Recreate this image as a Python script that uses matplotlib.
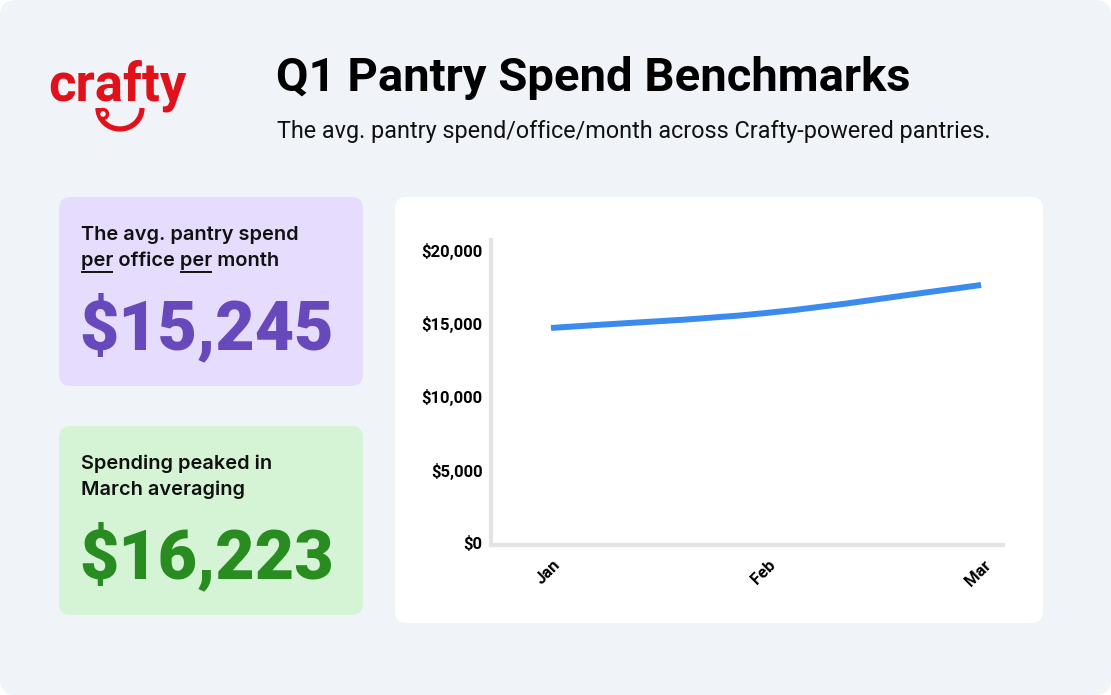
import matplotlib.pyplot as plt
from matplotlib.patches import FancyBboxPatch, Arc, Circle
from matplotlib.path import Path
from matplotlib.patches import PathPatch
from matplotlib.ticker import FuncFormatter
from matplotlib.transforms import ScaledTranslation
import numpy as np

# Data
months = ["Jan", "Feb", "Mar"]
spend = [14680, 15700, 17610]
y_ticks = [0, 5000, 10000, 15000, 20000]
avg_spend = "$15,245"
peak_spend = "$16,223"

W, H = 1111, 695
fig = plt.figure(figsize=(W / 100, H / 100), dpi=100)
fig.patch.set_facecolor("white")
plt.rcParams["font.family"] = ["Roboto", "DejaVu Sans"]

# background canvas in pixel units (y down)
bg = fig.add_axes([0, 0, 1, 1])
bg.set_xlim(0, W)
bg.set_ylim(H, 0)
bg.axis("off")


def rbox(x0, y0, x1, y1, color, r):
    bg.add_patch(FancyBboxPatch((x0, y0), x1 - x0, y1 - y0,
                                boxstyle=f"round,pad=0,rounding_size={r}",
                                fc=color, ec="none"))


rbox(0, 0, W, H, "#f0f3f7", 16)
rbox(59, 197, 363, 386, "#e6dcfd", 12)
rbox(59, 426, 363, 615, "#d5f3d5", 12)
rbox(395, 197, 1043, 623, "white", 12)

# logo
red = "#e1111b"
bg.text(48, 100, "crafty", color=red, fontsize=38, fontweight="bold", va="baseline")
bg.add_patch(Arc((120, 108), 44, 42, theta1=0, theta2=180, color=red, lw=3.8))
bg.add_patch(Circle((103, 114), 4.5, fc="white", ec=red, lw=2.5))

# title
bg.text(276, 91, "Q1 Pantry Spend Benchmarks", fontsize=34, fontweight="bold",
        color="black", va="baseline")
bg.text(277, 138, "The avg. pantry spend/office/month across Crafty-powered pantries.",
        fontsize=16.8, color="#111111", va="baseline")

# stat boxes
lab = dict(fontsize=14.4, fontweight="semibold", color="#111111", va="baseline",
           family=["Inter", "Roboto", "DejaVu Sans"])
bg.text(81, 240, "The avg. pantry spend", **lab)
bg.text(81, 266, "per office per month", **lab)
big = dict(fontsize=49, fontweight="heavy", va="baseline")
bg.text(79, 349, avg_spend, color="#6849bb", **big)

bg.text(81, 469, "Spending peaked in", **lab)
bg.text(81, 495, "March averaging", **lab)
bg.text(79, 578, peak_spend, color="#288c20", **big)

# underline the two "per"
renderer = fig.canvas.get_renderer()


def text_w(s):
    t = bg.text(0, 0, s, **lab)
    w = t.get_window_extent(renderer).width
    t.remove()
    return w


per_w = text_w("per")
off_w = text_w("per office ")
for start in (0, off_w):
    bg.plot([81 + start, 81 + start + per_w], [272, 272], color="#111111", lw=1.4,
            solid_capstyle="butt")

# chart
ax = fig.add_axes([491 / W, (H - 545) / H, (1003 - 491) / W, (545 - 240) / H])
ax.set_facecolor("none")
x = np.arange(len(months))
y = np.array(spend, dtype=float)

# smooth monotone curve through the points
d = np.diff(y) / np.diff(x)
m = np.zeros_like(y)
m[0], m[-1] = d[0], d[-1]
m[1:-1] = (d[:-1] + d[1:]) / 2
verts = [(x[0], y[0])]
codes = [Path.MOVETO]
for i in range(len(x) - 1):
    h = x[i + 1] - x[i]
    verts += [(x[i] + h / 3, y[i] + m[i] * h / 3),
              (x[i + 1] - h / 3, y[i + 1] - m[i + 1] * h / 3),
              (x[i + 1], y[i + 1])]
    codes += [Path.CURVE4] * 3
ax.add_patch(PathPatch(Path(verts, codes), fc="none", ec="#3a8bed", lw=4.3,
                       capstyle="butt"))

ax.set_xlim(-0.279, 2.102)
ax.set_ylim(-137, 20683)
ax.set_xticks(x)
ax.set_xticklabels(months, rotation=45, ha="right", va="top", rotation_mode="anchor")
ax.set_yticks(y_ticks)
ax.yaxis.set_major_formatter(FuncFormatter(lambda v, p: f"${v:,.0f}"))
for s in ("top", "right"):
    ax.spines[s].set_visible(False)
for s in ("left", "bottom"):
    ax.spines[s].set_color("#e3e3e3")
    ax.spines[s].set_linewidth(3)
ax.tick_params(length=0, labelsize=12)
ax.tick_params(axis="y", pad=6)
ax.tick_params(axis="x", pad=9)
shift = ScaledTranslation(2 / 100, 0, fig.dpi_scale_trans)
for t in ax.get_xticklabels():
    t.set_fontweight("bold")
    t.set_transform(t.get_transform() + shift)
for t in ax.get_yticklabels():
    t.set_fontweight("bold")

fig.savefig("out.png", dpi=100, facecolor="white")
